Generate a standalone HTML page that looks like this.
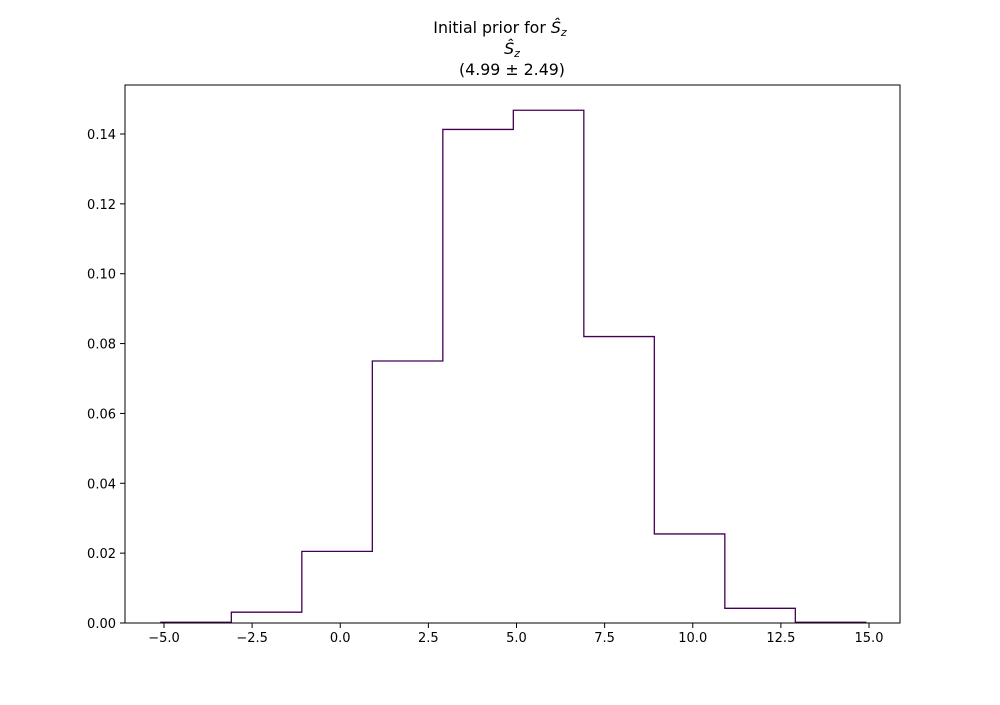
<!DOCTYPE html>
<html><head><meta charset="utf-8"><style>
body{margin:0;background:#fff}
svg text{font-family:"DejaVu Sans","Liberation Sans",sans-serif;font-size:13px;fill:#000}
</style></head><body>
<svg id="chart" width="1000" height="700" xmlns="http://www.w3.org/2000/svg">
<g>
<text x="500" y="33" text-anchor="middle" style="font-size:15.8px">Initial prior for <tspan font-style="italic">Ŝ</tspan><tspan font-style="italic" font-size="11" dy="3">z</tspan></text>
<text x="512" y="54" text-anchor="middle" style="font-size:15.8px"><tspan font-style="italic">Ŝ</tspan><tspan font-style="italic" font-size="11" dy="3">z</tspan></text>
<text x="512" y="75" text-anchor="middle" style="font-size:15.8px">(4.99 ± 2.49)</text>
</g>
<g id="xticks"></g>
<g id="yticks"></g>
<path id="hist" fill="none" stroke="#440154" stroke-width="1.3"/>
<rect x="125" y="85" width="775" height="538" fill="none" stroke="#000" stroke-width="1"/>
</svg>
<script>
const binEdges=[-5.09,-3.09,-1.09,0.91,2.91,4.91,6.91,8.91,10.91,12.91,14.91];
const densities=[0.0002,0.0031,0.0205,0.075,0.1413,0.1468,0.082,0.0255,0.0042,0.0002];
const xTicks=[-5.0,-2.5,0.0,2.5,5.0,7.5,10.0,12.5,15.0];
const yTicks=[0.00,0.02,0.04,0.06,0.08,0.10,0.12,0.14];
const X=v=>164+(v+5)*35.25;
const Y=v=>623-v*(489/0.14);
const ns="http://www.w3.org/2000/svg";
let d="M"+X(binEdges[0])+","+Y(0);
densities.forEach((v,i)=>{d+=" L"+X(binEdges[i])+","+Y(v)+" L"+X(binEdges[i+1])+","+Y(v);});
d+=" L"+X(binEdges[binEdges.length-1])+","+Y(0);
document.getElementById('hist').setAttribute('d',d);
const xg=document.getElementById('xticks');
xTicks.forEach(t=>{
 const l=document.createElementNS(ns,'line');
 
 
 l.setAttribute('x1',X(t));l.setAttribute('x2',X(t));l.setAttribute('y1',623);l.setAttribute('y2',628);l.setAttribute('stroke','#000');
 xg.appendChild(l);
 const tx=document.createElementNS(ns,'text');
 
 
 tx.setAttribute('x',X(t));tx.setAttribute('y',642);tx.setAttribute('text-anchor','middle');
 tx.textContent=t.toFixed(1).replace('-','−');
 xg.appendChild(tx);
});
const yg=document.getElementById('yticks');
yTicks.forEach(t=>{
 const l=document.createElementNS(ns,'line');
 
 
 l.setAttribute('x1',120);l.setAttribute('x2',125);l.setAttribute('y1',Y(t));l.setAttribute('y2',Y(t));l.setAttribute('stroke','#000');
 yg.appendChild(l);
 const tx=document.createElementNS(ns,'text');
 
 
 tx.setAttribute('x',116);tx.setAttribute('y',Y(t)+5);tx.setAttribute('text-anchor','end');
 tx.textContent=t.toFixed(2);
 yg.appendChild(tx);
});
</script>
</body></html>
